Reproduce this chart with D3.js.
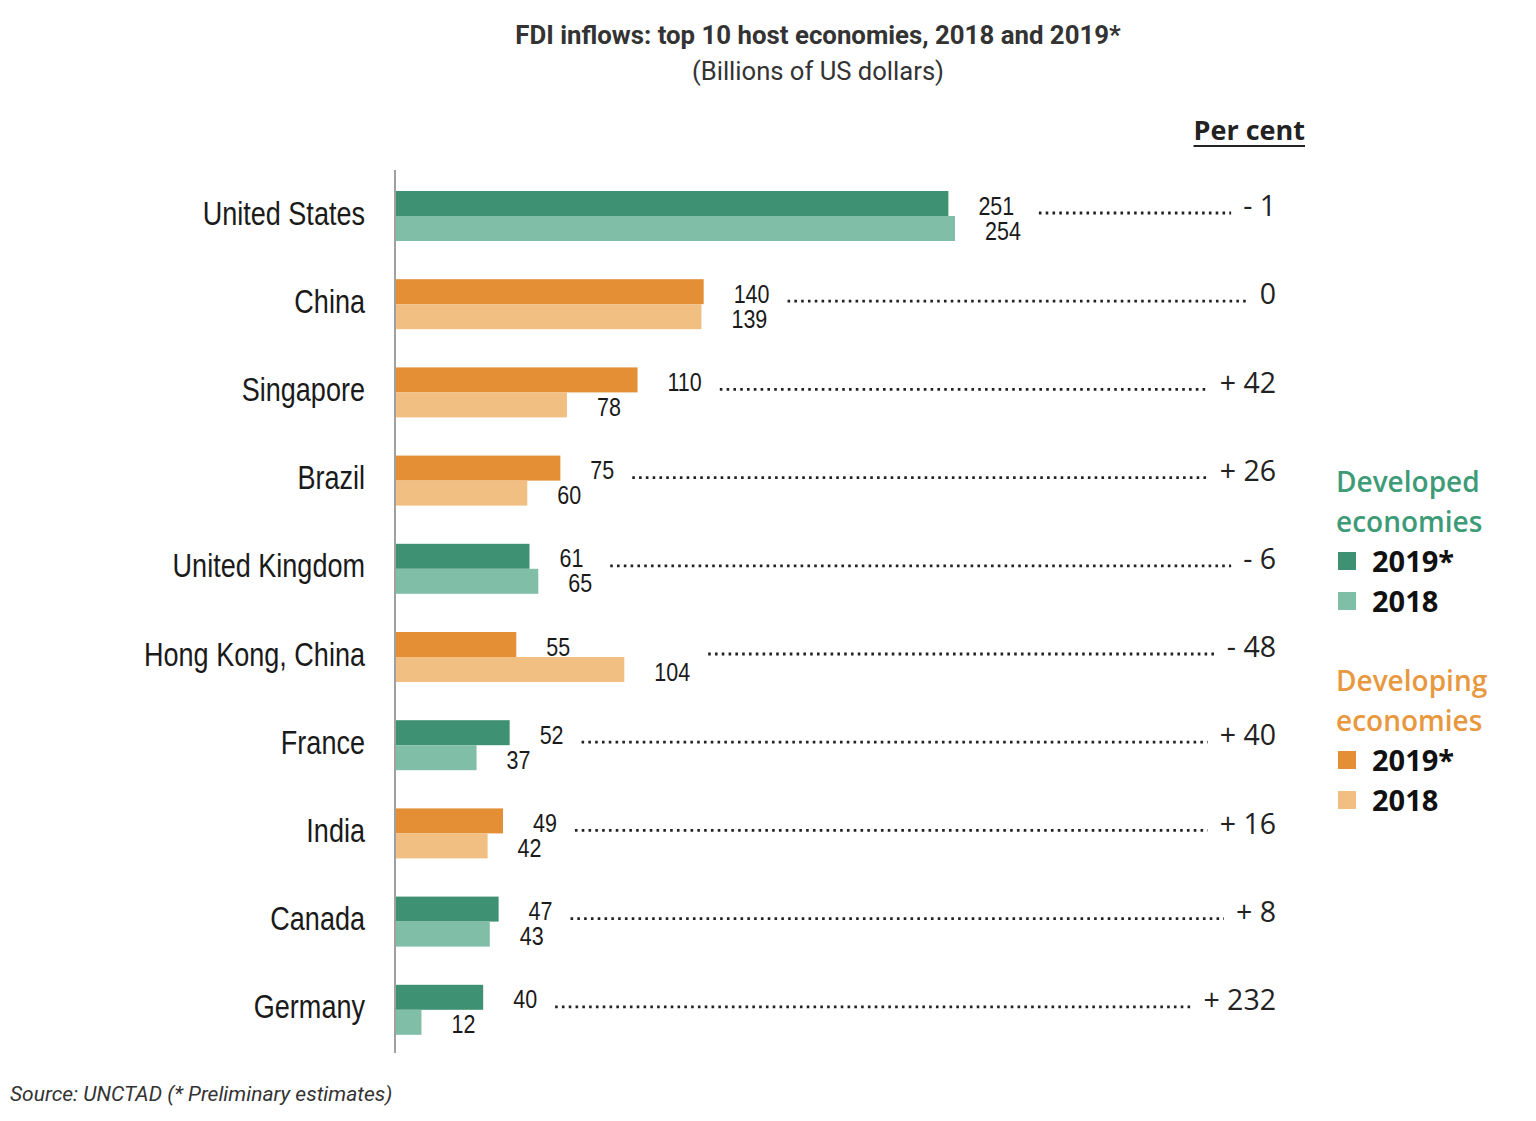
<!DOCTYPE html>
<html>
<head>
<meta charset="utf-8">
<script src="https://cdn.jsdelivr.net/npm/d3@7"></script>
<style>
  html, body { margin: 0; padding: 0; background: #fff; }
  svg { display: block; }
</style>
</head>
<body>
<svg id="chart" width="1536" height="1121"></svg>
<script>
// ---------------- DATA ----------------
const countries = ["United States", "China", "Singapore", "Brazil", "United Kingdom",
                   "Hong Kong, China", "France", "India", "Canada", "Germany"];
const values2019 = [251, 140, 110, 75, 61, 55, 52, 49, 47, 40];
const values2018 = [254, 139, 78, 60, 65, 104, 37, 42, 43, 12];
const groups = ["Developed", "Developing", "Developing", "Developing", "Developed",
                "Developing", "Developed", "Developing", "Developed", "Developed"];
const percentLabels = ["- 1", "0", "+ 42", "+ 26", "- 6", "- 48", "+ 40", "+ 16", "+ 8", "+ 232"];
const years = ["2019*", "2018"];
const legendGroups = ["Developed", "Developing"];

// ---------------- STYLE ----------------
const colors = {
  Developed:  { "2019*": "#3e9172", "2018": "#80bea8", text: "#3d9b77" },
  Developing: { "2019*": "#e48f36", "2018": "#f0bf81", text: "#e8983f" }
};
const narrow = "'Liberation Sans', Arial, sans-serif";
const calib = "'Open Sans', 'Noto Sans', sans-serif";
const condense = 0.82;   // horizontal squeeze to imitate a narrow face
const valCondense = 0.86;

const svg = d3.select("#chart");

// Title
svg.append("text").attr("x", 818).attr("y", 44).attr("text-anchor", "middle")
  .style("font-family", "Roboto, sans-serif").style("font-weight", 700)
  .style("font-size", "25.8px").attr("fill", "#333")
  .text("FDI inflows: top 10 host economies, 2018 and 2019*");
svg.append("text").attr("x", 818).attr("y", 80).attr("text-anchor", "middle")
  .style("font-family", "Roboto, sans-serif").style("font-size", "25.6px").attr("fill", "#333")
  .text("(Billions of US dollars)");

// Scales
const x = d3.scaleLinear().domain([0, 254]).range([395, 955]);
const y = d3.scaleBand().domain(countries).range([191, 1034.8]).paddingInner(0.433).paddingOuter(0);
const ySub = d3.scaleBand().domain(years).range([0, y.bandwidth()]).padding(0);

const rows = countries.map((c, i) => ({
  country: c, group: groups[i], pct: percentLabels[i],
  vals: [{ year: "2019*", v: values2019[i] }, { year: "2018", v: values2018[i] }]
}));

const g = svg.append("g");
const row = g.selectAll("g.row").data(rows).join("g").attr("class", "row")
  .attr("transform", d => `translate(0,${y(d.country)})`);

// bars
row.selectAll("rect").data(d => d.vals.map(v => ({ ...v, group: d.group }))).join("rect")
  .attr("x", x(0)).attr("y", d => ySub(d.year))
  .attr("width", d => x(d.v) - x(0)).attr("height", ySub.bandwidth())
  .attr("fill", d => colors[d.group][d.year]);

// value labels
row.selectAll("text.val").data(d => d.vals).join("text").attr("class", "val")
  .attr("transform", d => `translate(${x(d.v) + 30},${ySub(d.year) + ySub.bandwidth() / 2 + 2}) scale(${valCondense},1)`)
  .attr("dy", "0.36em")
  .style("font-family", narrow).style("font-size", "25px").attr("fill", "#1a1a1a")
  .text(d => d.v);

// category labels (axis)
const yAxis = d3.axisLeft(y).tickSize(0).tickPadding(0);
const ax = svg.append("g").attr("transform", `translate(${x(0)},0)`).call(yAxis);
ax.select(".domain").remove();
ax.selectAll("text")
  .attr("x", 0)
  .attr("transform", `translate(-30,-2) scale(${condense},1)`)
  .style("font-family", narrow).style("font-size", "33px").attr("fill", "#1a1a1a");
// axis line
svg.append("line").attr("x1", x(0)).attr("x2", x(0)).attr("y1", 170).attr("y2", 1053)
  .attr("stroke", "#a0a0a0").attr("stroke-width", 2);

// percent labels
row.append("text").attr("class", "pct")
  .attr("x", 1276).attr("y", 15).attr("dy", "0.36em").attr("text-anchor", "end")
  .style("font-family", calib).style("font-size", "28.5px").attr("fill", "#222")
  .text(d => d.pct);

// dotted leaders
row.each(function (d) {
  const r = d3.select(this);
  let maxEnd = 0;
  r.selectAll("text.val").each(function (v) {
    const b = this.getBBox();
    maxEnd = Math.max(maxEnd, x(v.v) + 30 + (b.x + b.width) * valCondense);
  });
  const pb = r.select("text.pct").node().getBBox();
  r.append("line").attr("x1", maxEnd + 18).attr("x2", pb.x - 12)
    .attr("y1", 22).attr("y2", 22)
    .attr("stroke", "#222").attr("stroke-width", 2.8).attr("stroke-dasharray", "2.6,4.2");
});

// Per cent header
const pc = svg.append("text").attr("x", 1305).attr("y", 140).attr("text-anchor", "end")
  .style("font-family", calib).style("font-weight", 700).style("font-size", "27px")
  .attr("fill", "#222").text("Per cent");
const pcb = pc.node().getBBox();
svg.append("line").attr("x1", pcb.x).attr("x2", pcb.x + pcb.width).attr("y1", 146).attr("y2", 146)
  .attr("stroke", "#222").attr("stroke-width", 2.2);

// Legend
const legend = svg.append("g");
legendGroups.forEach((grp, gi) => {
  const top = 492 + gi * 199;
  const lg = legend.append("g");
  lg.append("text").attr("x", 1336).attr("y", top)
    .style("font-family", calib).style("font-weight", 600).style("font-size", "28px")
    .attr("fill", colors[grp].text).text(grp);
  lg.append("text").attr("x", 1336).attr("y", top + 40)
    .style("font-family", calib).style("font-weight", 600).style("font-size", "28px")
    .attr("fill", colors[grp].text).text("economies");
  years.forEach((yr, yi) => {
    const yy = top + 60 + yi * 40;
    lg.append("rect").attr("x", 1338).attr("y", yy).attr("width", 18).attr("height", 18)
      .attr("fill", colors[grp][yr]);
    lg.append("text").attr("x", 1372).attr("y", yy + 20)
      .style("font-family", calib).style("font-weight", 700).style("font-size", "29px")
      .attr("fill", "#111").text(yr);
  });
});

// Source
svg.append("text").attr("x", 10).attr("y", 1101)
  .style("font-family", "Roboto, sans-serif").style("font-style", "italic").style("font-size", "21px")
  .attr("fill", "#333").text("Source: UNCTAD (* Preliminary estimates)");
</script>
</body>
</html>
